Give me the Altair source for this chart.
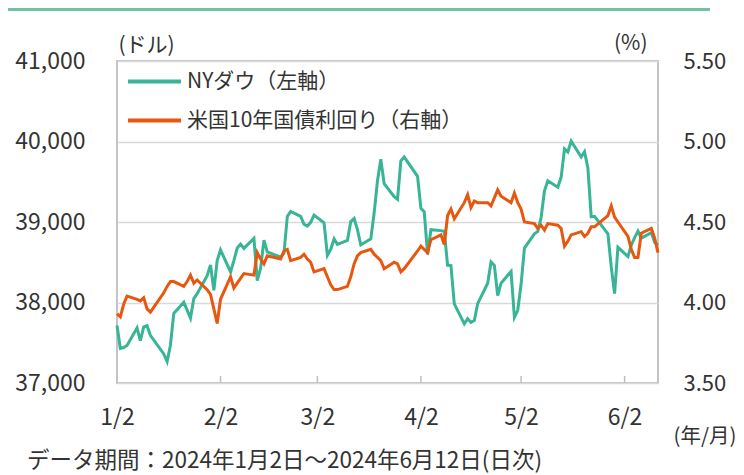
import altair as alt
import pandas as pd

# ---- data -----------------------------------------------------------------
dates = [
    "2024-01-02", "2024-01-03", "2024-01-04", "2024-01-05", "2024-01-08", "2024-01-09",
    "2024-01-10", "2024-01-11", "2024-01-12", "2024-01-16", "2024-01-17", "2024-01-18",
    "2024-01-19", "2024-01-22", "2024-01-23", "2024-01-24", "2024-01-25", "2024-01-26",
    "2024-01-29", "2024-01-30", "2024-01-31",
    "2024-02-01", "2024-02-02", "2024-02-05", "2024-02-06", "2024-02-07", "2024-02-08",
    "2024-02-09", "2024-02-12", "2024-02-13", "2024-02-14", "2024-02-15", "2024-02-16",
    "2024-02-20", "2024-02-21", "2024-02-22", "2024-02-23", "2024-02-26", "2024-02-27",
    "2024-02-28", "2024-02-29",
    "2024-03-01", "2024-03-04", "2024-03-05", "2024-03-06", "2024-03-07", "2024-03-08",
    "2024-03-11", "2024-03-12", "2024-03-13", "2024-03-14", "2024-03-15", "2024-03-18",
    "2024-03-19", "2024-03-20", "2024-03-21", "2024-03-22", "2024-03-25", "2024-03-26",
    "2024-03-27", "2024-03-28",
    "2024-04-01", "2024-04-02", "2024-04-03", "2024-04-04", "2024-04-05", "2024-04-08",
    "2024-04-09", "2024-04-10", "2024-04-11", "2024-04-12", "2024-04-15", "2024-04-16",
    "2024-04-17", "2024-04-18", "2024-04-19", "2024-04-22", "2024-04-23", "2024-04-24",
    "2024-04-25", "2024-04-26", "2024-04-29", "2024-04-30",
    "2024-05-01", "2024-05-02", "2024-05-03", "2024-05-06", "2024-05-07", "2024-05-08",
    "2024-05-09", "2024-05-10", "2024-05-13", "2024-05-14", "2024-05-15", "2024-05-16",
    "2024-05-17", "2024-05-20", "2024-05-21", "2024-05-22", "2024-05-23", "2024-05-24",
    "2024-05-28", "2024-05-29", "2024-05-30", "2024-05-31",
    "2024-06-03", "2024-06-04", "2024-06-05", "2024-06-06", "2024-06-07", "2024-06-10",
    "2024-06-11", "2024-06-12",
]

dow = [
    37715, 37430, 37440, 37466, 37683, 37525, 37696, 37711, 37593, 37361, 37267, 37469,
    37864, 38002, 37905, 37806, 38049, 38109, 38333, 38467, 38150,
    38520, 38654, 38380, 38521, 38677, 38726, 38672, 38797, 38273, 38424, 38773, 38628,
    38564, 38612, 39069, 39132, 39069, 38972, 38949, 38996,
    39087, 38990, 38585, 38661, 38791, 38723, 38770, 39005, 39043, 38906, 38715, 38790,
    39111, 39512, 39781, 39476, 39314, 39282, 39760, 39807,
    39567, 39170, 39127, 38597, 38904, 38893, 38884, 38462, 38459, 37983, 37735, 37799,
    37753, 37775, 37986, 38240, 38504, 38461, 38086, 38240, 38386, 37816,
    37903, 38226, 38676, 38852, 38884, 39056, 39388, 39513, 39432, 39558, 39908, 39869,
    40004, 39807, 39873, 39671, 39065, 39070, 38853, 38442, 38111, 38686,
    38571, 38711, 38807, 38886, 38799, 38868, 38747, 38712,
]

yields = [
    3.93, 3.91, 3.99, 4.04, 4.02, 4.01, 4.03, 3.96, 3.94, 4.06, 4.10, 4.13,
    4.13, 4.10, 4.13, 4.17, 4.12, 4.14, 4.08, 4.05, 3.96,
    3.87, 4.02, 4.16, 4.09, 4.12, 4.15, 4.18, 4.17, 4.31, 4.27, 4.24, 4.29,
    4.27, 4.32, 4.33, 4.26, 4.28, 4.30, 4.27, 4.25,
    4.19, 4.21, 4.16, 4.11, 4.08, 4.08, 4.10, 4.16, 4.24, 4.29, 4.31, 4.33,
    4.30, 4.28, 4.26, 4.21, 4.25, 4.24, 4.19, 4.21,
    4.32, 4.35, 4.33, 4.31, 4.39, 4.42, 4.36, 4.54, 4.58, 4.52, 4.62, 4.67,
    4.59, 4.63, 4.62, 4.62, 4.60, 4.65, 4.70, 4.66, 4.62, 4.68,
    4.62, 4.58, 4.50, 4.49, 4.46, 4.48, 4.45, 4.49, 4.48, 4.46, 4.35, 4.38,
    4.42, 4.44, 4.41, 4.43, 4.47, 4.47, 4.54, 4.60, 4.53, 4.50,
    4.41, 4.33, 4.28, 4.28, 4.43, 4.46, 4.40, 4.31,
]

series_names = ["NYダウ（左軸）", "米国10年国債利回り（右軸）"]
series_colors = ["#38b496", "#e8570f"]

dow_ticks = [37000, 38000, 39000, 40000, 41000]
yield_ticks = [3.5, 4.0, 4.5, 5.0, 5.5]
month_ticks = ["2024-01-02", "2024-02-02", "2024-03-02", "2024-04-02", "2024-05-02", "2024-06-02"]
inner_ticks = ["2024-02-02", "2024-03-02", "2024-04-02", "2024-05-02", "2024-06-02"]
x_start = "2024-01-02"
x_end = "2024-06-12"
footnote = "データ期間：2024年1月2日～2024年6月12日(日次)"

# ---- chart ------------------------------------------------------------------
FONT = "Noto Sans CJK JP"
TXT = "#333333"
W, H = 541, 322


def dt(s):
    y, m, d = (int(v) for v in s.split("-"))
    return alt.DateTime(year=y, month=m, date=d)


df = pd.DataFrame({"date": pd.to_datetime(dates), "dow": dow, "yield": yields})
tick_df = pd.DataFrame({"date": pd.to_datetime(inner_ticks)})

xscale = alt.Scale(domain=[dt(x_start), dt(x_end)])
color_scale = alt.Scale(domain=series_names, range=series_colors)

x_enc = alt.X(
    "date:T",
    scale=xscale,
    axis=alt.Axis(
        values=[dt(s) for s in month_ticks],
        format="%-m/%-d",
        labelFontSize=23,
        labelPadding=23,
        labelFlush=False,
        labelOverlap=False,
        ticks=False,
        domain=False,
        grid=False,
        title="(年/月)",
        titleX=556,
        titleY=53,
        titleAlign="left",
        titleBaseline="middle",
        titleFontSize=20.5,
        titleFontWeight="normal",
    ),
)

legend = alt.Legend(
    title=None,
    orient="none",
    legendX=9,
    legendY=-8,
    direction="vertical",
    symbolType="stroke",
    symbolSize=2809,
    symbolStrokeWidth=4,
    labelFontSize=21,
    labelFont=FONT,
    labelColor=TXT,
    labelOffset=4,
    labelLimit=0,
    rowPadding=-11,
    padding=0,
)

color_enc = alt.Color("series:N", scale=color_scale, legend=legend)

dow_line = alt.Chart(df).transform_calculate(
    series=f"'{series_names[0]}'"
).mark_line(strokeWidth=3).encode(
    x=x_enc,
    y=alt.Y(
        "dow:Q",
        scale=alt.Scale(domain=[dow_ticks[0], dow_ticks[-1]], nice=False, zero=False),
        axis=alt.Axis(
            orient="left",
            values=dow_ticks,
            format=",.0f",
            labelFontSize=23,
            labelPadding=32,
            ticks=False,
            domain=False,
            grid=True,
            title="(ドル)",
            titleAngle=0,
            titleX=1,
            titleY=-16,
            titleAlign="left",
            titleBaseline="middle",
            titleFontSize=21,
            titleFontWeight="normal",
        ),
    ),
    color=color_enc,
)

yield_line = alt.Chart(df).transform_calculate(
    series=f"'{series_names[1]}'"
).mark_line(strokeWidth=3).encode(
    x=x_enc,
    y=alt.Y(
        "yield:Q",
        scale=alt.Scale(domain=[yield_ticks[0], yield_ticks[-1]], nice=False, zero=False),
        axis=alt.Axis(
            orient="right",
            values=yield_ticks,
            format=".2f",
            labelFontSize=22,
            labelPadding=25,
            ticks=False,
            domain=False,
            grid=False,
            title="(%)",
            titleAngle=0,
            titleX=-11,
            titleY=-18,
            titleAlign="right",
            titleBaseline="middle",
            titleFontSize=21,
            titleFontWeight="normal",
        ),
    ),
    color=color_enc,
)

tick_marks = alt.Chart(tick_df).mark_rule(color="#bfbfbf", strokeWidth=1.5).encode(
    x=alt.X("date:T", scale=xscale),
    y=alt.value(H - 7),
    y2=alt.value(H),
)

top_rule = alt.Chart(pd.DataFrame({"k": [0]})).mark_rule(color="#6cc59f", strokeWidth=3).encode(
    x=alt.value(-109),
    x2=alt.value(593),
    y=alt.value(-51.5),
)

chart = (
    alt.layer(dow_line, yield_line, tick_marks, top_rule)
    .resolve_scale(y="independent")
    .properties(
        width=W,
        height=H,
        padding={"left": 109, "top": 53, "right": 78, "bottom": 92},
        autosize=alt.AutoSizeParams(type="none"),
        title=alt.TitleParams(
            text=footnote,
            orient="bottom",
            anchor="start",
            frame="group",
            dx=-90,
            offset=3,
            font=FONT,
            fontSize=22.5,
            fontWeight="normal",
            color=TXT,
        ),
    )
    .configure_view(stroke="#c4c4c4", strokeWidth=2)
    .configure_axis(
        labelFont=FONT,
        titleFont=FONT,
        labelColor=TXT,
        titleColor=TXT,
        gridColor="#d9d9d9",
        gridWidth=1.5,
    )
)

chart.save("out.html", embed_options={"renderer": "svg", "actions": False})
